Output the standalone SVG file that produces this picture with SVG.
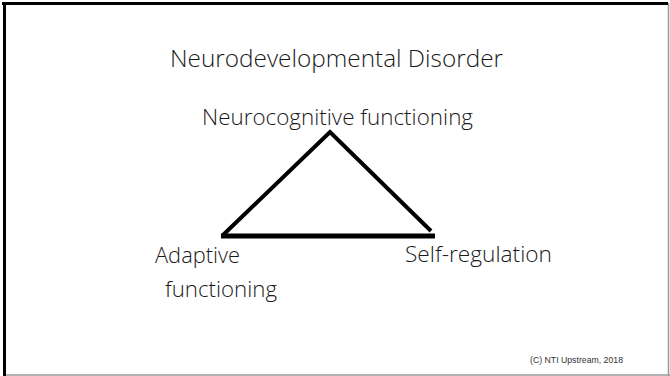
<svg xmlns="http://www.w3.org/2000/svg" width="670" height="376" viewBox="0 0 670 376">
  <style>
    .lbl { font-family: "Open Sans", "Noto Sans", "DejaVu Sans", sans-serif; font-weight: 300; fill: #1a1a1a; }
    .title { font-size: 24.5px; }
    .node { font-size: 22.5px; }
    .foot { font-family: "Liberation Sans", Arial, sans-serif; font-size: 8.7px; fill: #333; }
    .edge { stroke: #000; fill: none; stroke-linecap: butt; }
  </style>
  <rect x="0" y="0" width="670" height="376" fill="#fff"/>
  <!-- slide frame: dark upper/left edges, light lower/right edges -->
  <line x1="668.5" y1="3" x2="668.5" y2="376" stroke="#999" stroke-width="1.5"/>
  <line x1="3" y1="375" x2="670" y2="375" stroke="#999" stroke-width="1.5"/>
  <line x1="2" y1="3.5" x2="668" y2="3.5" stroke="#000" stroke-width="3"/>
  <line x1="4.5" y1="2" x2="4.5" y2="376" stroke="#000" stroke-width="3"/>

  <text class="lbl title" x="170" y="67" textLength="333" lengthAdjust="spacingAndGlyphs">Neurodevelopmental Disorder</text>

  <g id="connectors">
    <path class="edge" d="M222,236 L330,132 L431,231" stroke-width="4"/>
    <line class="edge" x1="221" y1="236" x2="435" y2="236" stroke-width="5"/>
  </g>

  <g id="neurocognitive">
    <text class="lbl node" x="202" y="125" textLength="271" lengthAdjust="spacingAndGlyphs">Neurocognitive functioning</text>
  </g>
  <g id="adaptive">
    <text class="lbl node" x="155" y="263" textLength="85" lengthAdjust="spacingAndGlyphs">Adaptive</text>
    <text class="lbl node" x="165" y="297" textLength="112" lengthAdjust="spacingAndGlyphs">functioning</text>
  </g>
  <g id="self-regulation">
    <text class="lbl node" x="405" y="262" textLength="147" lengthAdjust="spacingAndGlyphs">Self-regulation</text>
  </g>

  <text class="foot" x="530" y="363" textLength="93" lengthAdjust="spacingAndGlyphs">(C) NTI Upstream, 2018</text>
</svg>
